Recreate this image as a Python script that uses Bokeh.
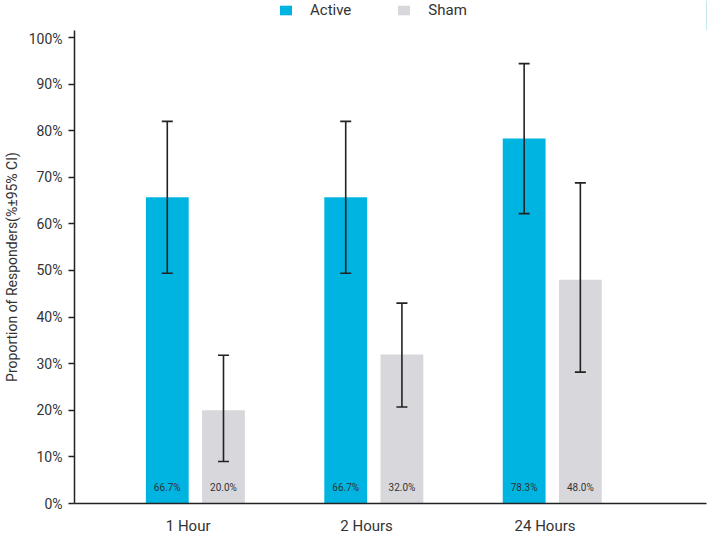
from bokeh.plotting import figure
from bokeh.layouts import column
from bokeh.models import (ColumnDataSource, FixedTicker, Whisker, TeeHead, Legend,
                          LegendItem, Range1d)
from bokeh.embed import file_html
from bokeh.resources import INLINE
from bokeh.core.properties import value

# ---- data ----
categories = ["1 Hour", "2 Hours", "24 Hours"]
series_names = ["Active", "Sham"]
active_values = [65.7, 65.7, 78.3]
sham_values = [20.0, 32.0, 48.0]
active_labels = ["66.7%", "66.7%", "78.3%"]
sham_labels = ["20.0%", "32.0%", "48.0%"]
active_lower = [49.4, 49.4, 62.2]
active_upper = [82.0, 82.0, 94.4]
sham_lower = [9.0, 20.7, 28.2]
sham_upper = [31.8, 43.0, 68.8]
y_ticks = list(range(0, 101, 10))

FONT = "Roboto"
TXT = "#333333"
ACTIVE = "#00B4E1"
SHAM = "#D8D8DC"
AX = "#222222"

idx = list(range(len(categories)))
a_off, s_off, bw = -0.117, 0.198, 0.24

src_a = ColumnDataSource(dict(x=[i + a_off for i in idx], top=active_values,
                              lo=active_lower, hi=active_upper, lab=active_labels,
                              y0=[0] * len(idx)))
src_s = ColumnDataSource(dict(x=[i + s_off for i in idx], top=sham_values,
                              lo=sham_lower, hi=sham_upper, lab=sham_labels,
                              y0=[0] * len(idx)))

# ---- legend strip (its frame is aligned with the main chart's frame) ----
lf = figure(width=714, height=30, output_backend="svg", toolbar_location=None,
            x_range=Range1d(0, 1), y_range=Range1d(0, 1),
            x_axis_location=None, y_axis_location=None,
            min_border_left=72, min_border_right=8, min_border_top=0,
            min_border_bottom=0)
lf.outline_line_color = None
lf.xgrid.visible = False
lf.ygrid.visible = False
# proxy renderers placed outside the visible range, only used for legend swatches
la = lf.vbar(x=[10], top=[1], width=0.1, fill_color=ACTIVE, line_color=None)
ls = lf.vbar(x=[10], top=[1], width=0.1, fill_color=SHAM, line_color=None)
legend = Legend(items=[LegendItem(label=series_names[0], renderers=[la]),
                       LegendItem(label=series_names[1], renderers=[ls])],
                orientation="horizontal", location=(204, 11),
                glyph_width=15, glyph_height=12, label_standoff=17, spacing=45,
                padding=0, margin=0, border_line_color=None,
                background_fill_alpha=0,
                label_text_font=FONT, label_text_font_size="15px",
                label_text_color=TXT, label_height=12)
lf.add_layout(legend)

# ---- main chart ----
p = figure(width=714, height=507, output_backend="svg", toolbar_location=None,
           x_range=Range1d(-0.637, 2.905), y_range=Range1d(0, 101.5),
           min_border_left=72, min_border_right=8, min_border_top=0,
           min_border_bottom=32)
p.outline_line_color = None
p.xgrid.visible = False
p.ygrid.visible = False

p.vbar(x="x", top="top", width=bw, source=src_a, fill_color=ACTIVE, line_color=None)
p.vbar(x="x", top="top", width=bw, source=src_s, fill_color=SHAM, line_color=None)

for src in (src_a, src_s):
    w = Whisker(base="x", lower="lo", upper="hi", source=src,
                line_color=AX, line_width=1.6, level="overlay",
                upper_head=TeeHead(size=11, line_color=AX, line_width=1.6),
                lower_head=TeeHead(size=11, line_color=AX, line_width=1.6))
    p.add_layout(w)
    p.text(x="x", y="y0", text="lab", source=src, text_align="center",
           text_baseline="middle", y_offset=-16, text_font=value(FONT),
           text_font_size="10px", text_color=TXT)

# axes
p.xaxis.ticker = FixedTicker(ticks=idx)
p.xaxis.major_label_overrides = {i: c for i, c in zip(idx, categories)}
p.xaxis.major_tick_out = 0
p.xaxis.major_tick_in = 0
p.xaxis.major_tick_line_color = None
p.xaxis.minor_tick_line_color = None
p.xaxis.major_label_standoff = 13
p.xaxis.major_label_text_font = FONT
p.xaxis.major_label_text_font_size = "15px"
p.xaxis.major_label_text_color = TXT
p.xaxis.axis_line_color = AX
p.xaxis.axis_line_width = 1.5

p.yaxis.ticker = FixedTicker(ticks=y_ticks)
p.yaxis.major_label_overrides = {t: f"{t}%" for t in y_ticks}
p.yaxis.major_tick_out = 6
p.yaxis.major_tick_in = 0
p.yaxis.major_tick_line_color = AX
p.yaxis.major_tick_line_width = 1.5
p.yaxis.minor_tick_line_color = None
p.yaxis.major_label_standoff = 6
p.yaxis.major_label_text_font = FONT
p.yaxis.major_label_text_font_size = "14px"
p.yaxis.major_label_text_color = TXT
p.yaxis.axis_line_color = AX
p.yaxis.axis_line_width = 1.5
p.yaxis.axis_label = "Proportion of Responders(%\u00b195% CI)"
p.yaxis.axis_label_text_font = FONT
p.yaxis.axis_label_text_font_size = "14px"
p.yaxis.axis_label_text_font_style = "normal"
p.yaxis.axis_label_text_color = TXT
p.yaxis.axis_label_standoff = 6

open("out.html", "w").write(file_html(column(lf, p, spacing=0), INLINE))
